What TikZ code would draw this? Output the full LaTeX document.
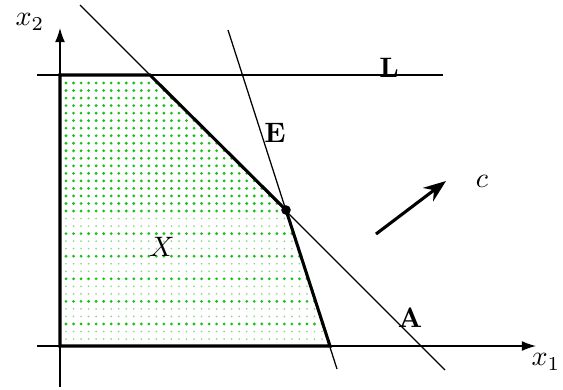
\documentclass[tikz,border=0pt]{standalone}
\usetikzlibrary{arrows.meta}
\definecolor{dotg}{RGB}{20,195,20}
\definecolor{dotl}{RGB}{140,215,140}
\begin{document}
\begin{tikzpicture}[x=0.0125cm,y=-0.0125cm,
  thin line/.style={line width=0.45pt},
  thick line/.style={line width=1.1pt},
  axis/.style={line width=0.45pt,-{Latex[length=5pt,width=3.5pt]}},
  lbl/.style={inner sep=0pt}]
\useasboundingbox (0,0) rectangle (563,389);
% vertices
\coordinate (O) at (60,346);
\coordinate (P1) at (60,75);
\coordinate (P2) at (150,75);
\coordinate (V) at (286,210);
\coordinate (P3) at (330,346);
% dots
\begin{scope}
\clip (O)--(P1)--(P2)--(V)--(P3)--cycle;
\foreach \i in {0,...,17,20,23,26,29,32}
  \foreach \j in {0,...,36}
    \fill[dotg] ({66+7.53*\j},{83+7.53*\i}) circle[radius=0.55pt];
\foreach \i in {18,19,21,22,24,25,27,28,30,31,33,34}
  \foreach \j in {0,...,36}
    \fill[dotl] ({66+7.53*\j},{83+7.53*\i}) circle[radius=0.35pt];
\end{scope}
% lines
\coordinate (Ls) at (37,75);
\coordinate (Le) at (443,75);
\coordinate (As) at (80,5);
\coordinate (Ae) at (445,370);
\coordinate (Es) at (228,30);
\coordinate (Ee) at (337,369);
\draw[thin line] (Ls) -- (Le);
\draw[thin line] (As) -- (Ae);
\draw[thin line] (Es) -- (Ee);
% axes
\coordinate (xs) at (37,346);
\coordinate (xe) at (536,346);
\coordinate (ys) at (60,387);
\coordinate (ye) at (60,28);
\draw[axis] (xs) -- (xe);
\draw[axis] (ys) -- (ye);
% polygon
\draw[thick line,line join=miter] (O)--(P1)--(P2)--(V)--(P3)--cycle;
\fill (V) circle[radius=1.7pt];
% c arrow
\coordinate (cs) at (376,234);
\coordinate (ce) at (446,181);
\draw[line width=1.1pt,-{Stealth[length=8pt,width=6pt]}] (cs) -- (ce);
% labels
\node[lbl] (lx1) at (546,362) {$x_1$};
\node[lbl] (lx2) at (30,22) {$x_2$};
\node[lbl] (lL) at (389,68) {$\mathbf{L}$};
\node[lbl] (lE) at (275,133) {$\mathbf{E}$};
\node[lbl] (lA) at (410,318) {$\mathbf{A}$};
\node[lbl] (lc) at (482,181) {$c$};
\node[lbl] (lX) at (162,247) {$X$};
\end{tikzpicture}
\end{document}
